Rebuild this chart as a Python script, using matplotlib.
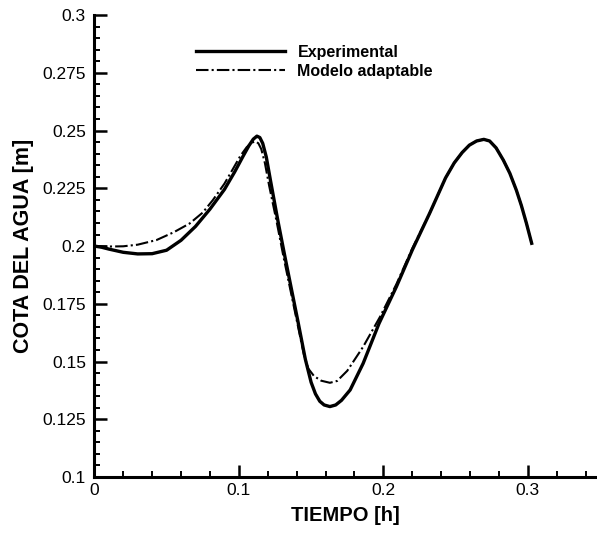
import matplotlib.pyplot as plt
from matplotlib.ticker import MultipleLocator

# Experimental water level
t_exp = [0.000, 0.005, 0.010, 0.020, 0.030, 0.040, 0.050, 0.060, 0.070, 0.080,
         0.090, 0.097, 0.103, 0.107, 0.110, 0.1125, 0.1145, 0.1165, 0.119, 0.122,
         0.127, 0.132, 0.141, 0.146, 0.150, 0.153, 0.156, 0.159, 0.163, 0.167,
         0.171, 0.177, 0.186, 0.197, 0.209, 0.220, 0.232, 0.243, 0.249, 0.2545,
         0.2595, 0.2645, 0.2695, 0.2735, 0.278, 0.283, 0.2875, 0.292, 0.2955, 0.299,
         0.3026]
h_exp = [0.2000, 0.1995, 0.1987, 0.1973, 0.1966, 0.1967, 0.1982, 0.2025, 0.2085, 0.2160,
         0.2245, 0.2320, 0.2390, 0.2435, 0.2463, 0.2476, 0.2470, 0.2445, 0.2385, 0.2280,
         0.2110, 0.1950, 0.1670, 0.1510, 0.1410, 0.1360, 0.1328, 0.1312, 0.1305, 0.1312,
         0.1332, 0.1377, 0.1492, 0.1665, 0.1824, 0.1983, 0.2142, 0.2295, 0.2360, 0.2405,
         0.2437, 0.2455, 0.2462, 0.2455, 0.2425, 0.2372, 0.2315, 0.2242, 0.2175, 0.2098,
         0.2012]

# Adaptive model
t_mod = [0.000, 0.010, 0.020, 0.030, 0.043, 0.055, 0.066, 0.075, 0.082, 0.090,
         0.096, 0.101, 0.1054, 0.109, 0.1115, 0.1135, 0.1155, 0.118, 0.121, 0.126,
         0.131, 0.140, 0.145, 0.148, 0.152, 0.157, 0.163, 0.168, 0.175, 0.186,
         0.1977, 0.209, 0.220, 0.232, 0.243, 0.249, 0.2545, 0.2595, 0.2645, 0.2695,
         0.2735, 0.278, 0.283, 0.2875, 0.292, 0.2955, 0.299, 0.3026]
h_mod = [0.2000, 0.1998, 0.1999, 0.2006, 0.2026, 0.2060, 0.2098, 0.2145, 0.2199, 0.2270,
         0.2335, 0.2390, 0.2428, 0.2448, 0.2453, 0.2445, 0.2420, 0.2360, 0.2260, 0.2110,
         0.1950, 0.1680, 0.1530, 0.1470, 0.1437, 0.1417, 0.1408, 0.1416, 0.1460, 0.1564,
         0.1694, 0.1835, 0.1990, 0.2142, 0.2295, 0.2360, 0.2405, 0.2437, 0.2455, 0.2462,
         0.2455, 0.2425, 0.2372, 0.2315, 0.2242, 0.2175, 0.2098, 0.2012]

plt.rcParams['font.family'] = ['Liberation Sans', 'DejaVu Sans']

fig = plt.figure(figsize=(5.97, 5.34), dpi=100)
ax = fig.add_axes([0.158, 0.1067, 0.842, 0.865])

ax.plot(t_exp, h_exp, color='black', lw=2.4, label='Experimental',
        solid_joinstyle='round')
ax.plot(t_mod, h_mod, color='black', lw=1.5, linestyle=(0, (6, 1.5, 1, 1.5)),
        label='Modelo adaptable')

ax.set_xlim(0, 0.3478)
ax.set_ylim(0.1, 0.3)

ax.spines['top'].set_visible(False)
ax.spines['right'].set_visible(False)
ax.spines['left'].set_linewidth(2.2)
ax.spines['bottom'].set_linewidth(2.2)

ax.xaxis.set_major_locator(MultipleLocator(0.1))
ax.xaxis.set_minor_locator(MultipleLocator(0.02))
ax.yaxis.set_major_locator(MultipleLocator(0.025))
ax.yaxis.set_minor_locator(MultipleLocator(0.005))
ax.xaxis.set_major_formatter(plt.FuncFormatter(lambda v, p: f"{v:g}"))
ax.yaxis.set_major_formatter(plt.FuncFormatter(lambda v, p: f"{v:g}"))

ax.tick_params(which='major', direction='in', length=9, width=1.8,
               labelsize=12.5, top=False, right=False)
ax.tick_params(which='minor', direction='in', length=4.5, width=1.4,
               top=False, right=False)
ax.tick_params(axis='y', which='major', pad=6)
ax.tick_params(axis='x', which='major', pad=4)

ax.set_xlabel('TIEMPO [h]', fontsize=14.5, fontweight='bold', labelpad=6)
ax.set_ylabel('COTA DEL AGUA [m]', fontsize=15.5, fontweight='bold', labelpad=6)

ax.legend(loc='upper left', bbox_to_anchor=(196 / 597, 1 - 45 / 534),
          bbox_transform=fig.transFigure, frameon=False,
          prop={'size': 11.5, 'weight': 'bold'}, handlelength=5.6,
          handletextpad=0.75, labelspacing=0.25, borderpad=0, borderaxespad=0)

fig.savefig('out.png', dpi=100)
